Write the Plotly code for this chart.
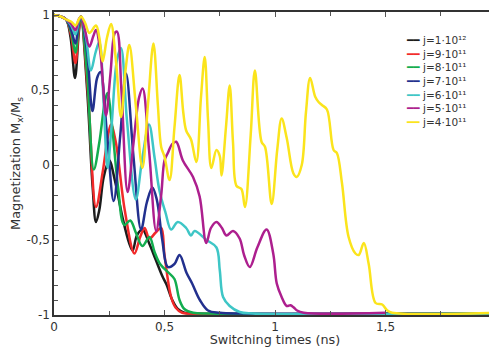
import plotly.graph_objects as go

# ---- data (time in ns, normalized magnetization Mx/Ms) ----
labels = ["j=1·10¹²", "j=9·10¹¹", "j=8·10¹¹", "j=7·10¹¹", "j=6·10¹¹", "j=5·10¹¹", "j=4·10¹¹"]
colors = ["#1c1c1c", "#f22a2a", "#13ad4f", "#22308e", "#3ec6c6", "#ad1f8e", "#fbe41c"]

t_black = [0, 0.03, 0.055, 0.075, 0.095, 0.112, 0.122, 0.15, 0.175, 0.19, 0.205, 0.225, 0.25, 0.275,
           0.31, 0.34, 0.356, 0.375, 0.40, 0.43, 0.46, 0.49, 0.51, 0.535, 0.56, 0.59, 0.63, 2.0]
m_black = [1, 0.99, 0.97, 0.85, 0.58, 0.88, 0.99, 0.5, -0.15, -0.38, -0.3, -0.08, 0.03, -0.1,
           -0.35, -0.52, -0.57, -0.47, -0.43, -0.52, -0.63, -0.74, -0.8, -0.9, -0.96, -0.985, -0.99, -0.99]

t_red = [0, 0.03, 0.055, 0.078, 0.097, 0.112, 0.122, 0.155, 0.19, 0.22, 0.245, 0.258, 0.28, 0.32,
         0.364, 0.39, 0.41, 0.432, 0.46, 0.485, 0.5, 0.53, 0.55, 0.58, 0.62, 2.0]
m_red = [1, 0.99, 0.97, 0.86, 0.68, 0.9, 0.99, 0.45, -0.28, -0.05, 0.2, 0.27, 0.15, -0.3,
         -0.59, -0.48, -0.42, -0.49, -0.45, -0.42, -0.6, -0.88, -0.95, -0.985, -0.99, -0.99]

t_green = [0, 0.03, 0.055, 0.078, 0.097, 0.112, 0.122, 0.15, 0.18, 0.205, 0.23, 0.242, 0.26, 0.29,
           0.318, 0.345, 0.37, 0.40, 0.432, 0.455, 0.48, 0.52, 0.545, 0.568, 0.59, 0.63, 0.7, 2.0]
m_green = [1, 0.99, 0.97, 0.88, 0.75, 0.93, 0.99, 0.6, -0.03, 0.15, 0.42, 0.48, 0.3, -0.15,
           -0.40, -0.37, -0.45, -0.54, -0.48, -0.58, -0.66, -0.72, -0.76, -0.9, -0.96, -0.985, -0.99, -0.99]

t_blue = [0, 0.03, 0.055, 0.078, 0.097, 0.112, 0.122, 0.15, 0.174, 0.195, 0.21, 0.24, 0.27, 0.3,
          0.326, 0.36, 0.394, 0.42, 0.445, 0.465, 0.49, 0.515, 0.545, 0.568, 0.6, 0.625, 0.66,
          0.697, 0.75, 0.85, 2.0]
m_blue = [1, 0.99, 0.97, 0.9, 0.81, 0.95, 0.99, 0.75, 0.36, 0.58, 0.62, 0.2, -0.24, 0.2,
          0.61, 0.05, -0.43, -0.25, -0.15, -0.23, -0.5, -0.68, -0.66, -0.6, -0.72, -0.79, -0.9,
          -0.97, -0.985, -0.99, -0.99]

t_cyan = [0, 0.03, 0.055, 0.078, 0.097, 0.112, 0.122, 0.145, 0.167, 0.188, 0.205, 0.225, 0.242,
          0.26, 0.285, 0.303, 0.33, 0.37, 0.40, 0.43, 0.455, 0.477, 0.505, 0.53, 0.56, 0.598,
          0.62, 0.636, 0.69, 0.735, 0.75, 0.765, 0.795, 0.84, 0.9, 2.0]
m_cyan = [1, 0.99, 0.97, 0.93, 0.87, 0.96, 0.99, 0.85, 0.63, 0.75, 0.82, 0.4, -0.02,
          0.25, 0.7, 0.78, 0.3, -0.23, 0.05, 0.27, 0.05, -0.17, -0.32, -0.43, -0.38, -0.42,
          -0.47, -0.44, -0.5, -0.55, -0.7, -0.88, -0.94, -0.98, -0.99, -0.99]

t_magenta = [0, 0.03, 0.055, 0.078, 0.097, 0.112, 0.122, 0.14, 0.16, 0.178, 0.19, 0.21, 0.235,
             0.255, 0.275, 0.285, 0.305, 0.333, 0.36, 0.385, 0.401, 0.43, 0.462, 0.485, 0.5,
             0.515, 0.535, 0.553, 0.583, 0.629, 0.659, 0.689, 0.71, 0.735, 0.76, 0.78, 0.81,
             0.84, 0.86, 0.886, 0.92, 0.962, 0.992, 1.008, 1.03, 1.053, 1.07, 1.085, 1.1, 1.13, 1.5]
m_magenta = [1, 0.99, 0.97, 0.94, 0.90, 0.97, 0.99, 0.9, 0.79, 0.86, 0.9, 0.75, 0.33,
             0.6, 0.88, 0.89, 0.5, -0.18, 0.15, 0.45, 0.51, 0.1, -0.44, -0.2, 0.03,
             0.08, 0.14, 0.155, 0.03, -0.08, -0.21, -0.52, -0.42, -0.38, -0.42, -0.47, -0.44,
             -0.49, -0.6, -0.68, -0.55, -0.43, -0.59, -0.79, -0.88, -0.94, -0.935, -0.95, -0.97, -0.985, -0.985]

t_yellow = [0, 0.03, 0.055, 0.078, 0.097, 0.112, 0.122, 0.14, 0.16, 0.19, 0.205, 0.22, 0.24,
            0.258, 0.28, 0.303, 0.325, 0.341, 0.37, 0.40, 0.425, 0.45, 0.47, 0.485, 0.5, 0.523,
            0.545, 0.568, 0.585, 0.598, 0.62, 0.644, 0.665, 0.682, 0.697, 0.712, 0.735, 0.75,
            0.758, 0.778, 0.795, 0.81, 0.826, 0.848, 0.864, 0.89, 0.909, 0.939, 0.955, 0.985,
            1.01, 1.03, 1.053, 1.083, 1.098, 1.121, 1.14, 1.159, 1.182, 1.197, 1.212, 1.235,
            1.265, 1.28, 1.303, 1.333, 1.364, 1.379, 1.402, 1.424, 1.455, 1.485, 1.508, 1.53, 2.0]
m_yellow = [1, 0.99, 0.97, 0.955, 0.93, 0.97, 0.99, 0.95, 0.88, 0.93, 0.85, 0.69, 0.85,
            0.94, 0.7, 0.32, 0.65, 0.80, 0.4, -0.02, 0.4, 0.81, 0.4, 0.12, 0.055, -0.1,
            0.25, 0.6, 0.35, 0.23, 0.17, 0.02, 0.45, 0.72, 0.3, -0.02, 0.1, 0.06,
            -0.07, 0.25, 0.53, 0.15, -0.14, -0.16, -0.28, 0.2, 0.63, 0.155, 0.12, -0.26,
            0.1, 0.31, 0.18, -0.055, -0.08, 0.0, 0.35, 0.58, 0.455, 0.42, 0.4, 0.37,
            0.1, 0.08, -0.12, -0.48, -0.59, -0.6, -0.52, -0.66, -0.92, -0.93, -0.97, -0.985, -0.985]

x_tickvals = [0, 0.5, 1, 1.5, 2]
x_ticktext = ["0", "0,5", "1", "1,5", "2"]
y_tickvals = [-1, -0.5, 0, 0.5, 1]
y_ticktext = ["-1", "-0,5", "0", "0,5", "1"]

series = [(t_black, m_black), (t_red, m_red), (t_green, m_green), (t_blue, m_blue),
          (t_cyan, m_cyan), (t_magenta, m_magenta), (t_yellow, m_yellow)]

FONT = "DejaVu Sans, Liberation Sans, sans-serif"

fig = go.Figure()
for (tx, my), name, col in zip(series, labels, colors):
    fig.add_trace(go.Scatter(x=tx, y=my, mode="lines", name=name, showlegend=False,
                             line=dict(color=col, width=2.5, shape="spline", smoothing=1.0)))

# legend drawn as a text block: coloured line glyph + label per series
legend_lines = [
    "<span style=\"color:%s\">━━</span> %s" % (c, n)
    for n, c in zip(labels, colors)
]
fig.add_annotation(text="<br>".join(legend_lines), xref="paper", yref="paper",
                   x=0.792, y=0.935, xanchor="left", yanchor="top", align="left",
                   showarrow=False, font=dict(family=FONT, size=10.5, color="#333333"))

axis_common = dict(showline=True, linecolor="#333333", linewidth=1.5, mirror="allticks",
                   ticks="inside", ticklen=5, tickcolor="#555555", showgrid=False, zeroline=False,
                   tickfont=dict(family=FONT, size=12, color="#333333"))

# the page adds an 8px body margin, so the figure is sized to fill the rest of the window
fig.update_layout(
    width=489, height=339,
    margin=dict(l=46, r=1, t=4, b=32, autoexpand=False),
    paper_bgcolor="white", plot_bgcolor="white",
    font=dict(family=FONT, color="#333333"),
    xaxis=dict(range=[0, 2], tickvals=x_tickvals, ticktext=x_ticktext,
               ticklabeloverflow="allow",
               minor=dict(dtick=0.25, ticks="inside", ticklen=4, tickcolor="#555555"),
               title=dict(text="Switching times (ns)", font=dict(family=FONT, size=12.8), standoff=4),
               **axis_common),
    yaxis=dict(range=[-1, 1.02], tickvals=y_tickvals, ticktext=y_ticktext,
               minor=dict(dtick=0.1, tick0=0, ticks="inside", ticklen=4, tickcolor="#555555"),
               title=dict(text="Magnetization M<sub>x</sub>/M<sub>s</sub>",
                          font=dict(family=FONT, size=13), standoff=4),
               **axis_common),
    showlegend=False,
)

fig.write_html("out.html")
